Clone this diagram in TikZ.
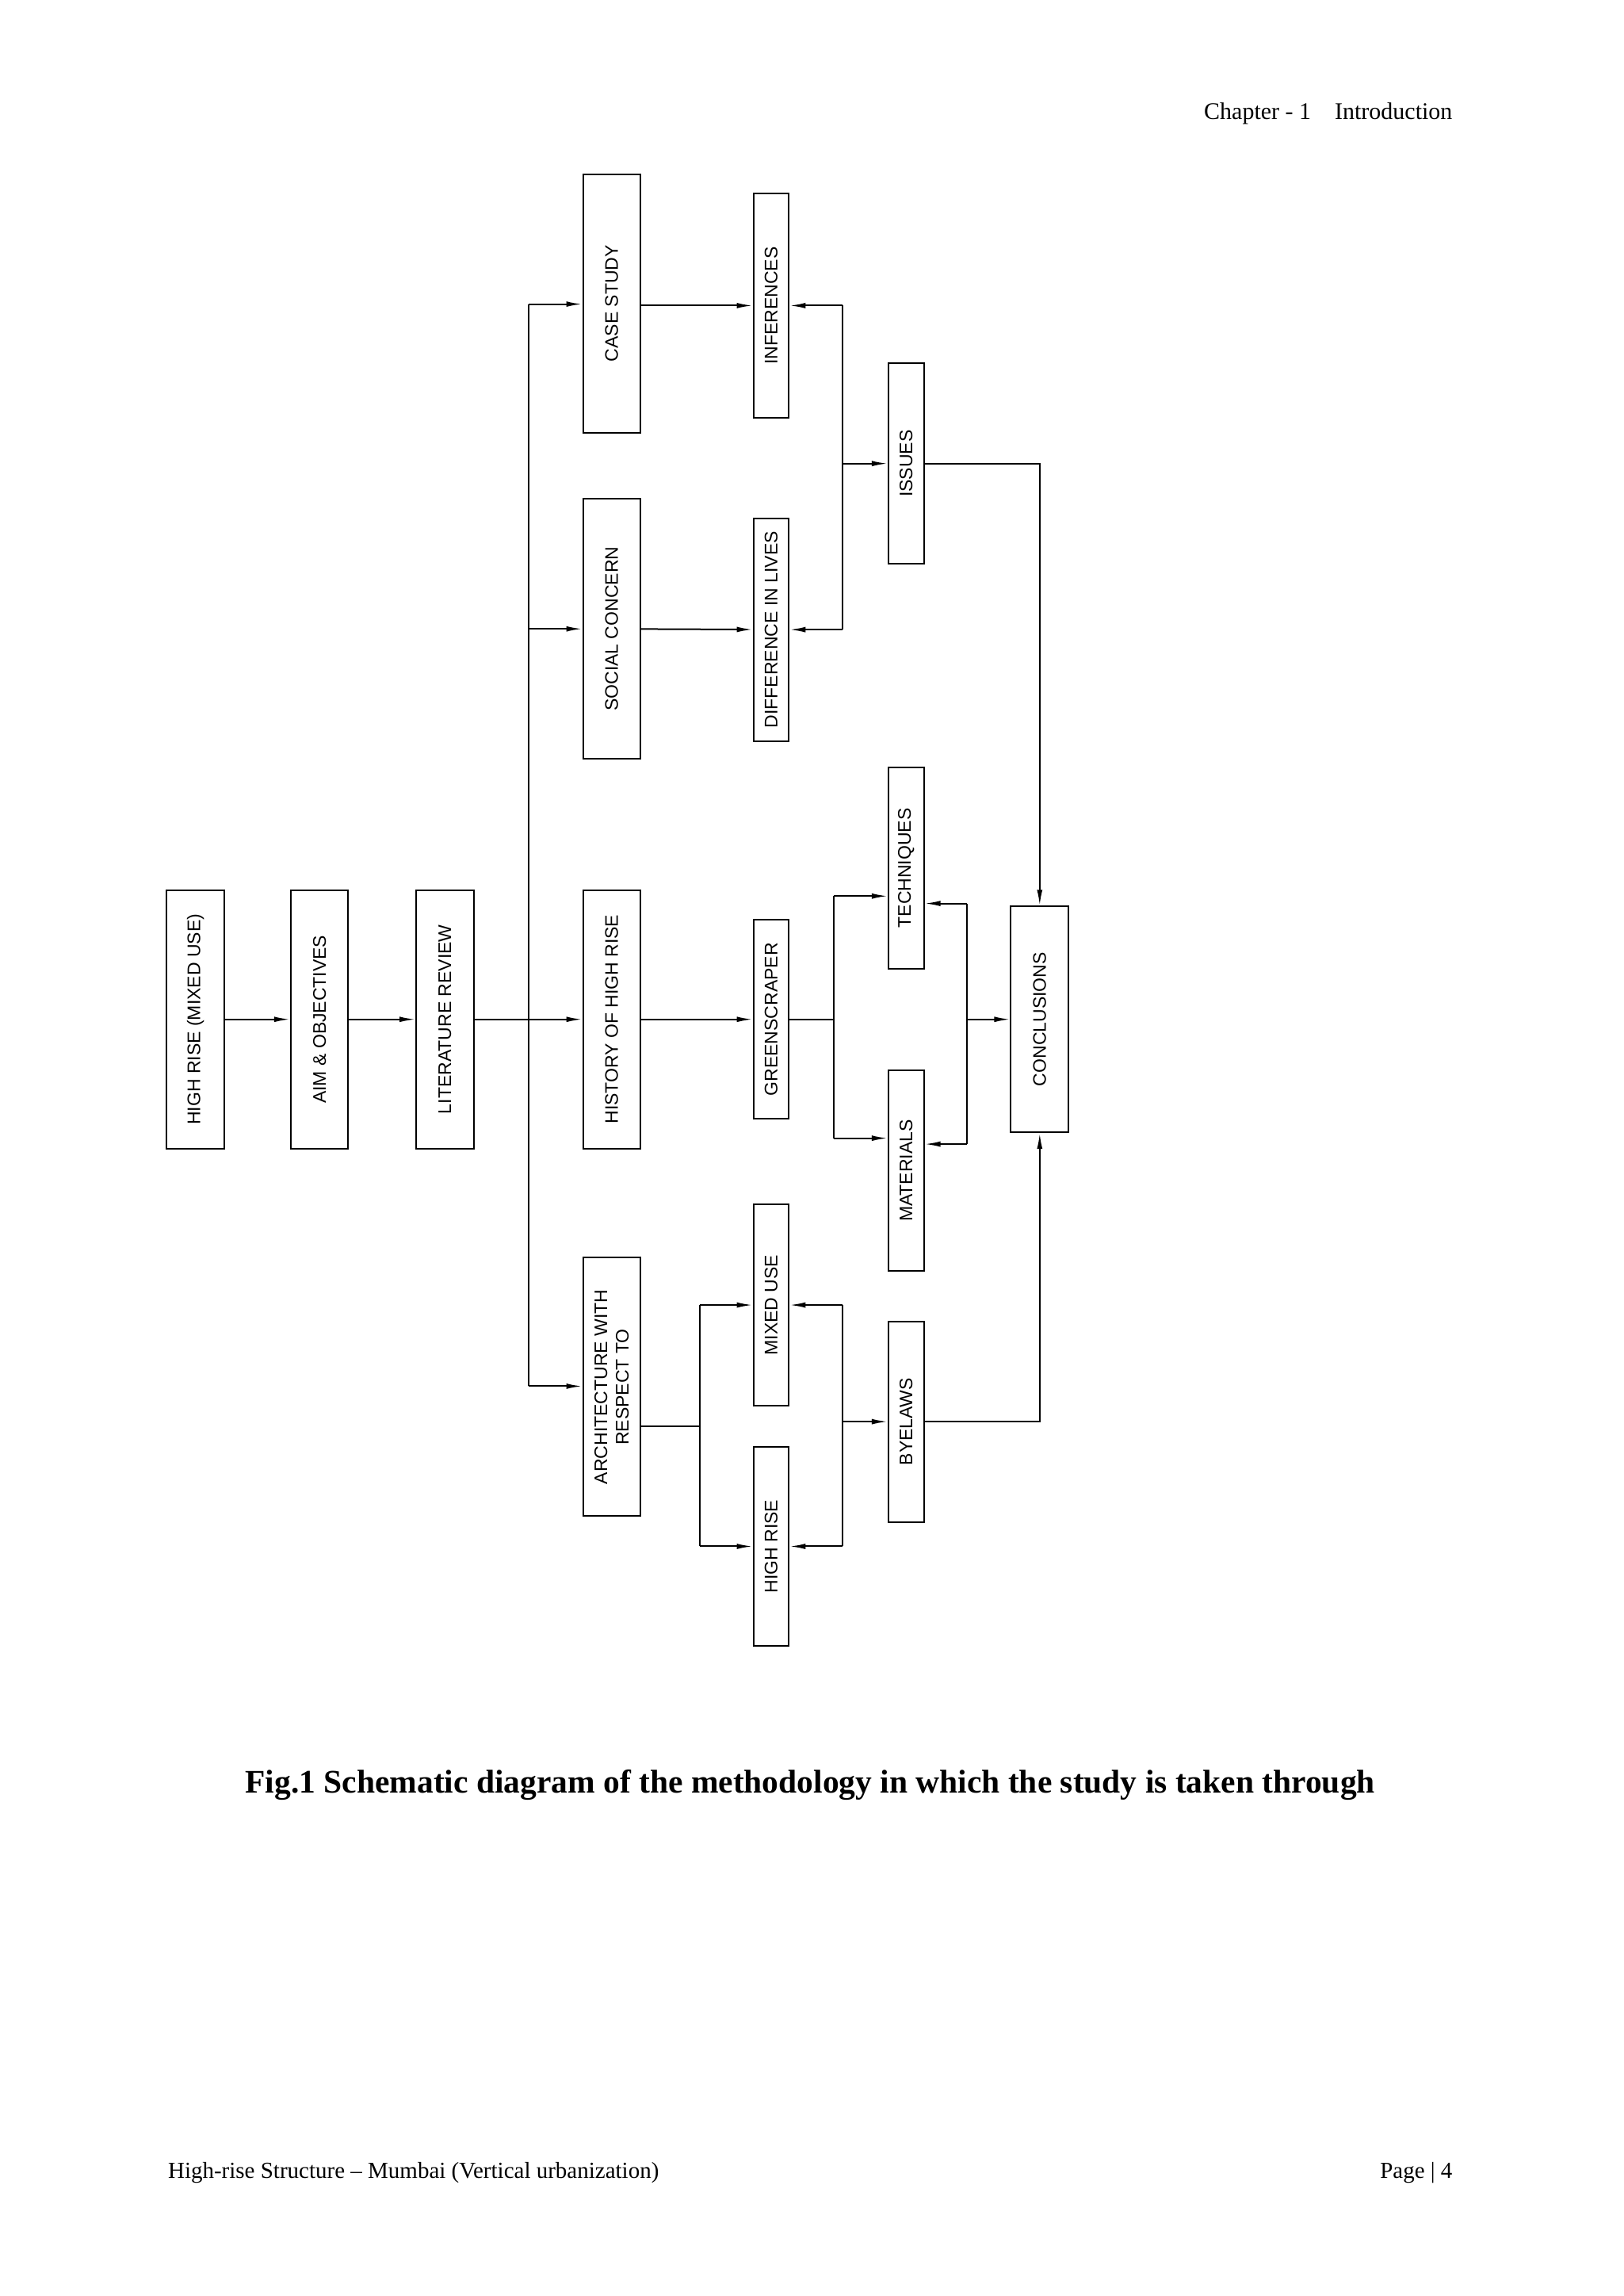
\documentclass[tikz,border=0pt]{standalone}
\usepackage{fontspec}
\setmainfont{Liberation Serif}
\setsansfont{Liberation Sans}
\usetikzlibrary{arrows.meta,calc}
\begin{document}
\begin{tikzpicture}[x=1.862pt,y=-1.862pt,
  bx/.style={draw,line width=2pt,rotate=90,inner sep=0pt,align=center,font=\sffamily\fontsize{23pt}{27pt}\selectfont},
  wide/.style={bx,minimum height=39*1.862pt},
  narrow/.style={bx,minimum height=24*1.862pt},
  ln/.style={line width=2pt},
  ar/.style={line width=2pt,-{Latex[length=20pt,width=7pt]}}]
\useasboundingbox (0,0) rectangle (1100,1555.3);
\fill[white] (0,0) rectangle (1100,1555.3);
% header/footer
\node[anchor=east,font=\fontsize{30pt}{34pt}\selectfont] (hdr) at (986,77) {Chapter - 1\quad Introduction};
\node[anchor=west,font=\fontsize{29pt}{33pt}\selectfont] (ftl) at (112,1472) {High-rise Structure -- Mumbai (Vertical urbanization)};
\node[anchor=east,font=\fontsize{29pt}{33pt}\selectfont] (ftr) at (986,1472) {Page | 4};
\node[font=\bfseries\fontsize{41.5pt}{45pt}\selectfont] (cap) at (549,1209) {Fig.1 Schematic diagram of the methodology in which the study is taken through};
% boxes
\node[wide,minimum width=175*1.862pt] (hr) at (132.5,690.5) {HIGH RISE (MIXED USE)};
\node[wide,minimum width=175*1.862pt] (aim) at (216.5,690.5) {AIM \& OBJECTIVES};
\node[wide,minimum width=175*1.862pt] (lit) at (301.5,690.5) {LITERATURE REVIEW};
\node[wide,minimum width=175*1.862pt] (case) at (414.5,205.5) {CASE STUDY};
\node[wide,minimum width=176*1.862pt] (soc) at (414.5,426) {SOCIAL CONCERN};
\node[wide,minimum width=175*1.862pt] (hist) at (414.5,690.5) {HISTORY OF HIGH RISE};
\node[wide,minimum width=175*1.862pt] (arch) at (414.5,939.5) {ARCHITECTURE WITH\\RESPECT TO};
\node[narrow,minimum width=152*1.862pt] (inf) at (522.5,207) {INFERENCES};
\node[narrow,minimum width=151*1.862pt] (diff) at (522.5,426.5) {DIFFERENCE IN LIVES};
\node[narrow,minimum width=136*1.862pt] (iss) at (614,314) {ISSUES};
\node[narrow,minimum width=135*1.862pt] (green) at (522.5,690.5) {GREENSCRAPER};
\node[narrow,minimum width=136*1.862pt] (tech) at (614,588) {TECHNIQUES};
\node[narrow,minimum width=136*1.862pt] (mat) at (614,793) {MATERIALS};
\node[wide,minimum width=153*1.862pt] (conc) at (704.5,690.5) {CONCLUSIONS};
\node[narrow,minimum width=136*1.862pt] (mix) at (522.5,884) {MIXED USE};
\node[narrow,minimum width=135*1.862pt] (hrise) at (522.5,1047.5) {HIGH RISE};
\node[narrow,minimum width=136*1.862pt] (bye) at (614,963) {BYELAWS};
% coordinates
\coordinate (busA) at (358,206);
\coordinate (busB) at (358,939);
\coordinate (isx) at (571,314);
\coordinate (gx) at (565,690.5);
\coordinate (cx) at (655,690.5);
\coordinate (ax) at (474,966);
\coordinate (bx) at (571,963);
\coordinate (tr) at (704.5,314);
\coordinate (br) at (704.5,963);
% main chain
\draw[ar] (hr) -- (aim);
\draw[ar] (aim) -- (lit);
\draw[ar] (lit) -- (hist);
\draw[ln] (busA) -- (busB);
\draw[ar] (busA) -- (busA -| case.north);
\draw[ar] (busA |- soc) -- (soc);
\draw[ar] (busB) -- (busB -| arch.north);
\draw[ar] (case.south |- inf) -- (inf);
\draw[ar] (soc) -- (diff);
\draw[ar] (hist) -- (green);
% issues
\draw[ln] (isx |- inf) -- (isx |- diff);
\draw[ar] (isx |- inf) -- (inf);
\draw[ar] (isx |- diff) -- (diff);
\draw[ar] (isx) -- (iss);
\draw[ar] (iss) -- (tr) -- (conc.east);
% greenscraper
\draw[ln] (green) -- (gx);
\draw[ln] (565,607) -- (565,771);
\draw[ar] (565,607) -- ($(tech.north)+(0,19)$);
\draw[ar] (565,771) -- ($(mat.north)+(0,-22)$);
\draw[ln] (655,612) -- (655,775);
\draw[ar] (655,612) -- ($(tech.south)+(0,24)$);
\draw[ar] (655,775) -- ($(mat.south)+(0,-18)$);
\draw[ar] (cx) -- (conc);
% architecture
\draw[ln] (arch.south |- ax) -- (ax);
\draw[ln] (ax |- mix) -- (ax |- hrise);
\draw[ar] (ax |- mix) -- (mix);
\draw[ar] (ax |- hrise) -- (hrise);
\draw[ln] (bx |- mix) -- (bx |- hrise);
\draw[ar] (bx |- mix) -- (mix);
\draw[ar] (bx |- hrise) -- (hrise);
\draw[ar] (bx) -- (bye);
\draw[ar] (bye) -- (br) -- (conc.west);
\end{tikzpicture}
\end{document}
